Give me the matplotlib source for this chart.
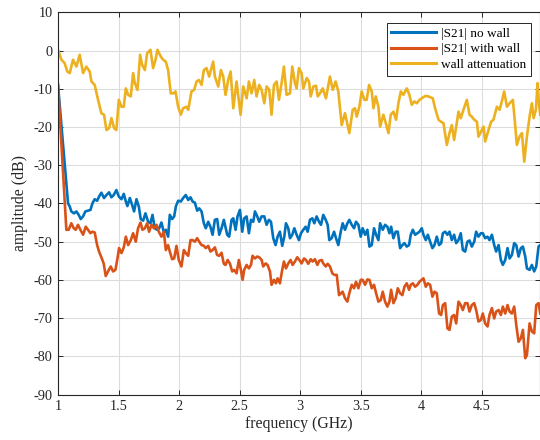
import matplotlib
matplotlib.use("Agg")
import matplotlib.pyplot as plt

# ---------------- data ----------------
freq_nowall = [1.000, 1.083, 1.097, 1.110, 1.132, 1.152, 1.171, 1.188, 1.207, 1.226, 1.248, 1.268, 1.284, 1.303, 1.323, 1.339, 1.358, 1.380, 1.400, 1.422, 1.441, 1.460, 1.482, 1.502, 1.524, 1.543, 1.560, 1.573, 1.593, 1.612, 1.628, 1.648, 1.667, 1.683, 1.703, 1.722, 1.744, 1.763, 1.780, 1.799, 1.818, 1.835, 1.854, 1.874, 1.890, 1.909, 1.923, 1.942, 1.959, 1.973, 1.992, 2.014, 2.033, 2.055, 2.075, 2.094, 2.111, 2.130, 2.149, 2.166, 2.185, 2.204, 2.220, 2.240, 2.259, 2.276, 2.295, 2.314, 2.331, 2.350, 2.369,
               2.397, 2.413, 2.433, 2.447, 2.466, 2.482, 2.502, 2.521, 2.537, 2.557, 2.576, 2.593, 2.612, 2.626, 2.645, 2.661, 2.681, 2.703, 2.722, 2.741, 2.758, 2.777, 2.796, 2.813, 2.832, 2.851, 2.868, 2.882, 2.901, 2.915, 2.934, 2.951, 2.970, 2.989, 3.006, 3.025, 3.044, 3.061, 3.080, 3.099, 3.116, 3.135, 3.155, 3.171, 3.190, 3.210, 3.226, 3.240, 3.259, 3.279, 3.295, 3.314, 3.334, 3.350, 3.369, 3.389, 3.405, 3.425, 3.444, 3.460, 3.480, 3.499, 3.515, 3.535, 3.554, 3.571, 3.590, 3.609, 3.626, 3.645, 3.659,
               3.681, 3.700, 3.719, 3.736, 3.750, 3.769, 3.788, 3.805, 3.824, 3.843, 3.860, 3.879, 3.898, 3.912, 3.929, 3.948, 3.967, 3.984, 4.003, 4.017, 4.036, 4.053, 4.072, 4.091, 4.108, 4.127, 4.146, 4.163, 4.177, 4.196, 4.215, 4.232, 4.251, 4.270, 4.287, 4.306, 4.325, 4.342, 4.361, 4.380, 4.397, 4.416, 4.436, 4.452, 4.471, 4.491, 4.507, 4.526, 4.546, 4.562, 4.582, 4.601, 4.617, 4.637, 4.656, 4.672, 4.692, 4.711, 4.728, 4.747, 4.766, 4.783, 4.802, 4.821, 4.838, 4.857, 4.871, 4.893, 4.912, 4.931, 4.948, 4.967, 4.981]
s21_nowall = [-9.0, -40.0, -40.8, -42.1, -42.6, -42.1, -43.0, -44.1, -43.4, -42.1, -41.9, -41.7, -40.0, -38.9, -39.3, -38.2, -37.2, -38.6, -37.8, -37.1, -38.4, -37.8, -36.5, -38.2, -38.9, -37.5, -39.5, -40.7, -38.6, -40.4, -42.1, -38.9, -40.8, -44.1, -44.5, -42.6, -44.8, -45.2, -43.0, -46.5, -46.9, -46.5, -45.0, -47.6, -46.9, -48.7, -43.0, -44.1, -43.4, -40.8, -39.3, -39.5, -38.6, -37.8, -39.1, -38.4, -39.5, -39.8, -41.9, -41.3, -42.1, -45.2, -46.5, -44.8, -46.2, -48.2, -44.3, -44.1, -48.2, -46.5, -44.3,
              -48.2, -48.7, -44.3, -43.9, -46.9, -43.4, -41.7, -47.4, -43.9, -43.4, -47.8, -44.3, -44.8, -42.1, -43.4, -44.8, -43.4, -43.4, -45.6, -44.3, -44.8, -49.1, -50.9, -48.7, -47.4, -51.1, -48.7, -45.2, -46.5, -49.1, -48.2, -46.5, -48.2, -49.6, -47.8, -46.9, -46.1, -47.4, -44.3, -43.9, -45.2, -43.4, -44.8, -45.6, -43.0, -44.3, -45.6, -49.6, -49.1, -47.4, -49.1, -50.9, -47.4, -45.2, -46.9, -45.2, -44.3, -45.6, -46.5, -44.8, -45.6, -48.7, -46.5, -48.2, -46.9, -51.3, -50.9, -46.5, -48.2, -49.6, -45.2,
              -46.9, -45.6, -46.1, -47.8, -46.1, -49.1, -47.4, -47.4, -51.7, -50.9, -50.4, -51.3, -50.9, -48.2, -46.9, -48.2, -47.8, -47.4, -46.5, -48.2, -49.6, -48.2, -50.0, -51.7, -50.9, -48.7, -50.9, -50.4, -47.8, -47.4, -48.2, -47.4, -49.6, -48.2, -50.4, -49.6, -47.8, -52.2, -52.6, -50.0, -49.7, -51.3, -50.0, -47.4, -48.7, -47.8, -47.8, -49.1, -48.7, -49.6, -48.2, -50.9, -52.6, -50.9, -54.8, -56.1, -54.8, -51.7, -54.4, -53.5, -50.4, -50.9, -53.9, -51.7, -51.3, -53.9, -57.0, -57.4, -56.1, -57.8, -56.5, -51.3, -50.9]

freq_wall = [1.000, 1.069, 1.088, 1.110, 1.130, 1.146, 1.165, 1.185, 1.207, 1.229, 1.248, 1.268, 1.284, 1.303, 1.323, 1.339, 1.358, 1.377, 1.394, 1.413, 1.435, 1.455, 1.474, 1.491, 1.504, 1.524, 1.543, 1.560, 1.579, 1.601, 1.620, 1.642, 1.661, 1.681, 1.697, 1.717, 1.736, 1.752, 1.772, 1.791, 1.813, 1.832, 1.854, 1.874, 1.890, 1.909, 1.923, 1.942, 1.959, 1.978, 1.997, 2.019, 2.039, 2.055, 2.075, 2.094, 2.111, 2.130, 2.149, 2.166, 2.185, 2.204, 2.220, 2.240, 2.259, 2.276, 2.295, 2.314, 2.331, 2.350, 2.369,
             2.383, 2.400, 2.419, 2.438, 2.455, 2.474, 2.493, 2.510, 2.524, 2.537, 2.557, 2.576, 2.593, 2.606, 2.626, 2.645, 2.661, 2.681, 2.694, 2.714, 2.730, 2.750, 2.763, 2.783, 2.799, 2.813, 2.832, 2.851, 2.865, 2.882, 2.901, 2.920, 2.937, 2.956, 2.975, 2.992, 3.011, 3.031, 3.047, 3.066, 3.086, 3.102, 3.121, 3.141, 3.157, 3.177, 3.190, 3.210, 3.226, 3.245, 3.265, 3.281, 3.301, 3.320, 3.336, 3.350, 3.369, 3.389, 3.405, 3.425, 3.444, 3.460, 3.480, 3.499, 3.515, 3.535, 3.554, 3.571, 3.590, 3.609, 3.626, 3.645,
             3.664, 3.681, 3.700, 3.719, 3.736, 3.750, 3.769, 3.788, 3.805, 3.824, 3.843, 3.860, 3.879, 3.898, 3.912, 3.929, 3.948, 3.967, 3.984, 4.003, 4.017, 4.036, 4.053, 4.072, 4.091, 4.108, 4.127, 4.146, 4.163, 4.177, 4.196, 4.215, 4.232, 4.251, 4.270, 4.287, 4.306, 4.325, 4.342, 4.361, 4.380, 4.397, 4.416, 4.436, 4.452, 4.471, 4.491, 4.507, 4.526, 4.546, 4.562, 4.582, 4.601, 4.617, 4.637, 4.656, 4.672, 4.692, 4.711, 4.728, 4.747, 4.766, 4.783, 4.802, 4.821, 4.838, 4.857, 4.871, 4.893, 4.912, 4.931, 4.948, 4.967, 4.981]
s21_wall = [-9.0, -46.9, -46.9, -45.2, -46.5, -46.9, -45.6, -46.9, -48.2, -46.1, -46.9, -47.8, -47.4, -47.6, -50.9, -52.6, -54.1, -55.7, -59.0, -57.8, -56.5, -57.8, -57.4, -54.4, -51.7, -53.0, -51.5, -48.7, -50.9, -49.6, -47.8, -50.0, -46.5, -45.0, -46.9, -46.5, -45.2, -47.4, -45.6, -46.5, -45.6, -47.4, -48.7, -47.4, -52.2, -50.9, -52.6, -54.6, -54.4, -51.1, -54.8, -56.5, -52.2, -53.0, -53.7, -49.6, -49.6, -50.0, -49.1, -50.0, -50.9, -51.1, -51.7, -51.1, -52.6, -52.2, -51.5, -53.5, -53.7, -52.9, -55.8,
            -56.1, -54.8, -55.7, -57.8, -57.4, -58.3, -54.8, -57.4, -60.0, -57.4, -56.1, -57.0, -56.1, -53.7, -54.4, -53.9, -54.1, -54.8, -56.5, -55.7, -56.1, -57.8, -61.3, -60.0, -60.9, -59.6, -60.9, -57.4, -55.2, -57.0, -55.7, -54.8, -56.1, -55.2, -54.1, -54.8, -55.7, -54.4, -54.8, -55.8, -54.6, -55.2, -54.6, -56.1, -55.0, -54.8, -55.7, -56.5, -55.8, -56.5, -58.3, -58.7, -58.7, -64.0, -63.5, -63.1, -64.8, -65.7, -63.5, -61.3, -62.2, -60.5, -62.2, -60.0, -60.0, -61.3, -59.9, -60.0, -62.2, -61.3, -63.5, -65.7,
            -65.3, -63.1, -65.7, -67.0, -65.7, -62.6, -66.1, -64.8, -62.2, -63.5, -64.0, -61.8, -60.9, -62.6, -61.3, -60.9, -61.8, -61.3, -60.5, -60.0, -59.6, -61.8, -60.9, -61.3, -64.4, -63.1, -63.5, -68.8, -69.2, -66.6, -66.1, -72.7, -73.1, -69.6, -69.2, -71.4, -65.7, -66.6, -67.9, -66.1, -66.1, -68.3, -66.6, -66.1, -67.9, -70.9, -70.5, -68.8, -71.4, -72.2, -69.2, -67.4, -70.1, -68.3, -67.9, -69.2, -67.0, -68.8, -66.6, -68.3, -68.8, -67.0, -71.8, -76.2, -75.3, -73.1, -80.5, -79.7, -71.4, -73.5, -74.0, -66.6, -66.1, -68.8]

freq_att = [1.000, 1.028, 1.055, 1.077, 1.097, 1.124, 1.152, 1.179, 1.207, 1.234, 1.262, 1.276, 1.303, 1.331, 1.358, 1.380, 1.400, 1.422, 1.441, 1.463, 1.482, 1.502, 1.524, 1.543, 1.560, 1.579, 1.601, 1.620, 1.634, 1.656, 1.678, 1.694, 1.717, 1.736, 1.763, 1.785, 1.805, 1.821, 1.849, 1.868, 1.890, 1.909, 1.931, 1.953, 1.970, 1.992, 2.014, 2.033, 2.061, 2.075, 2.102, 2.124, 2.144, 2.163, 2.185, 2.204, 2.226, 2.248, 2.281, 2.295, 2.323, 2.345, 2.364,
            2.383, 2.405, 2.425, 2.447, 2.474, 2.507, 2.529, 2.557, 2.576, 2.598, 2.620, 2.639, 2.661, 2.681, 2.703, 2.722, 2.744, 2.763, 2.783, 2.805, 2.824, 2.846, 2.865, 2.887, 2.915, 2.934, 2.956, 2.970, 2.989, 3.011, 3.025, 3.053, 3.072, 3.086, 3.108, 3.130, 3.144, 3.163, 3.185, 3.212, 3.245, 3.268, 3.292, 3.314, 3.342, 3.369, 3.405, 3.433, 3.452, 3.466, 3.488, 3.507, 3.529, 3.548, 3.568, 3.590, 3.604, 3.623, 3.645, 3.659,
            3.686, 3.706, 3.728, 3.747, 3.769, 3.791, 3.810, 3.830, 3.851, 3.879, 3.901, 3.920, 3.942, 3.962, 3.984, 4.003, 4.031, 4.058, 4.094, 4.113, 4.141, 4.160, 4.182, 4.210, 4.232, 4.251, 4.270, 4.292, 4.306, 4.325, 4.347, 4.375, 4.397, 4.416, 4.436, 4.458, 4.471, 4.493, 4.513, 4.526, 4.554, 4.576, 4.595, 4.623, 4.645, 4.664, 4.683, 4.706, 4.728, 4.755, 4.774, 4.788, 4.810, 4.830, 4.849, 4.871, 4.893, 4.912, 4.926, 4.945, 4.959, 4.967, 4.981]
wall_att = [0.2, -2.4, -3.3, -5.5, -5.9, -2.4, -4.2, -1.1, -5.9, -4.2, -5.5, -8.1, -9.0, -12.9, -16.4, -16.8, -20.8, -20.3, -17.7, -20.3, -20.8, -12.9, -14.7, -14.7, -9.9, -11.6, -12.0, -5.9, -8.5, -10.3, -1.1, -3.7, -5.1, -0.7, 0.2, -4.6, -2.4, 0.2, -1.6, -2.4, -2.9, -5.1, -11.2, -11.2, -10.7, -14.7, -16.8, -15.1, -14.7, -15.5, -10.7, -10.3, -8.1, -7.7, -9.0, -5.1, -4.6, -6.8, -2.9, -6.8, -9.4, -5.1, -6.8,
            -11.6, -7.7, -5.5, -15.1, -8.1, -16.8, -9.4, -12.5, -8.1, -11.2, -7.7, -12.0, -9.0, -10.3, -13.8, -9.4, -10.3, -16.8, -9.0, -8.1, -12.9, -8.5, -4.2, -11.6, -11.2, -4.2, -8.5, -9.9, -4.6, -5.9, -9.9, -7.2, -8.1, -12.0, -9.4, -9.2, -12.0, -11.2, -9.9, -12.5, -6.8, -10.3, -8.1, -10.7, -19.5, -16.4, -21.6, -15.5, -15.1, -17.3, -14.7, -10.7, -12.9, -12.9, -9.0, -10.7, -15.1, -12.0, -14.7, -19.9,
            -16.8, -19.0, -21.6, -16.8, -16.0, -18.1, -13.8, -10.7, -11.6, -9.9, -11.6, -14.2, -13.3, -13.8, -12.9, -12.5, -11.9, -12.0, -12.5, -15.1, -18.1, -18.6, -19.0, -24.7, -21.6, -19.5, -23.4, -19.0, -16.0, -17.7, -15.5, -12.9, -16.8, -17.3, -18.1, -18.6, -22.5, -21.2, -19.9, -23.8, -20.8, -18.6, -18.1, -14.7, -15.5, -13.3, -10.7, -14.7, -13.8, -12.9, -19.5, -24.7, -22.5, -21.6, -29.1, -22.5, -17.3, -13.8, -17.7, -15.5, -8.5, -12.9, -16.8]

labels = ["|S21| no wall", "|S21| with wall", "wall attenuation"]
colors = ["#0072BD", "#D95319", "#EDB120"]
x_ticks = [1, 1.5, 2, 2.5, 3, 3.5, 4, 4.5]
y_ticks = list(range(-90, 11, 10))

# ---------------- figure ----------------
plt.rcParams['font.family'] = ['Liberation Serif', 'DejaVu Serif']
plt.rcParams['axes.unicode_minus'] = False

fig = plt.figure(figsize=(5.4, 4.4), dpi=100)
ax = fig.add_axes([0.1074, 0.1034, 0.8917, 0.8686])

ax.plot(freq_nowall, s21_nowall, color=colors[0], lw=1.9, label=labels[0])
ax.plot(freq_wall, s21_wall, color=colors[1], lw=1.9, label=labels[1])
ax.plot(freq_att, wall_att, color=colors[2], lw=1.9, label=labels[2])

ax.set_xlim(1, 4.975)
ax.set_ylim(-90, 10)
ax.set_xticks(x_ticks)
ax.set_xticklabels([f"{t:g}" for t in x_ticks])
ax.set_yticks(y_ticks)
ax.set_yticklabels([str(t) for t in y_ticks])

ax.grid(True, color="#dcdcdc", lw=0.8)
ax.set_axisbelow(True)
for sp in ax.spines.values():
    sp.set_color("#262626")
    sp.set_linewidth(0.8)
ax.tick_params(direction="in", length=3.5, width=0.7, colors="#262626",
               labelsize=10.3, top=True, right=True, pad=4)

ax.set_xlabel("frequency (GHz)", fontsize=11.3, color="#262626", labelpad=2)
ax.set_ylabel("amplitude (dB)", fontsize=11.3, color="#262626", labelpad=4)

leg = ax.legend(loc="upper right", bbox_to_anchor=(0.983, 0.972), borderaxespad=0,
                fontsize=9.5, handlelength=3.4, handletextpad=0.4,
                labelspacing=0.25, borderpad=0.35, fancybox=False,
                framealpha=1, edgecolor="#262626")
leg.get_frame().set_linewidth(0.7)
for line in leg.get_lines():
    line.set_linewidth(2.2)

fig.savefig("out.png", dpi=100)
